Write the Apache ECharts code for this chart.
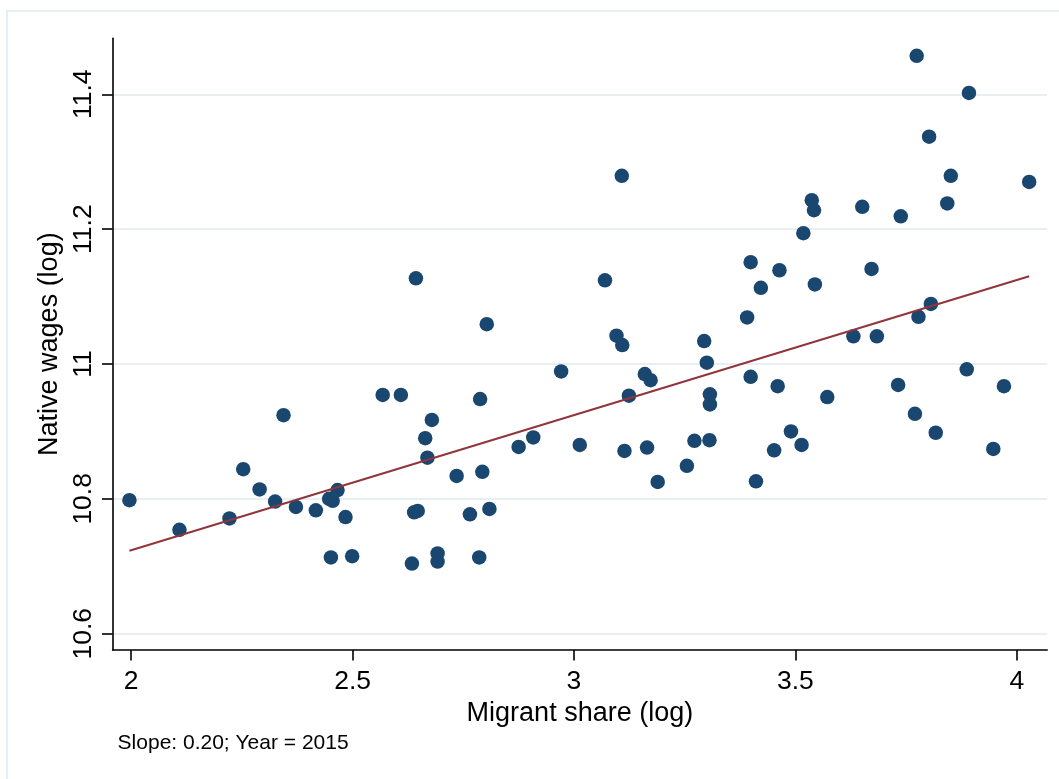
<!DOCTYPE html>
<html>
<head>
<meta charset="utf-8">
<script src="https://cdn.jsdelivr.net/npm/echarts@6/dist/echarts.min.js"></script>
<style>
html,body{margin:0;padding:0;background:#fff;}
#chart{width:1059px;height:779px;}
</style>
</head>
<body>
<div id="chart"></div>
<script>
const migrantShare = [1.996,2.109,2.222,2.253,2.290,2.344,2.325,2.372,2.417,2.447,2.455,2.466,2.484,2.451,2.499,2.568,2.609,2.639,2.647,2.634,2.643,2.803,3.096,3.109,3.294,3.300,2.971,2.788,2.679,2.664,2.669,3.160,3.173,3.124,3.307,3.307,2.908,2.875,3.013,3.114,3.165,3.272,3.306,3.255,3.189,2.735,2.793,2.765,2.809,2.692,2.692,2.786,3.391,3.806,3.778,3.631,3.684,3.399,3.460,3.572,3.732,3.887,3.971,3.770,3.817,3.947,3.490,3.514,3.452,3.411,3.108,3.070,3.774,3.892,3.802,3.851,4.028,3.843,3.537,3.542,3.651,3.738,3.518,3.399,3.464,3.422,3.544,3.672];
const nativeWages = [10.798,10.754,10.771,10.844,10.814,10.924,10.796,10.788,10.783,10.800,10.797,10.813,10.773,10.713,10.715,10.954,10.954,10.780,10.782,10.704,11.127,11.059,11.042,11.028,11.034,11.002,10.989,10.948,10.917,10.890,10.861,10.985,10.976,10.953,10.955,10.940,10.891,10.877,10.880,10.871,10.876,10.886,10.887,10.849,10.825,10.834,10.840,10.777,10.785,10.719,10.707,10.713,11.069,11.089,11.070,11.041,11.041,10.981,10.967,10.951,10.969,10.992,10.967,10.926,10.898,10.874,10.900,10.880,10.872,10.826,11.279,11.124,11.457,11.402,11.337,11.279,11.270,11.238,11.243,11.228,11.233,11.219,11.194,11.151,11.139,11.113,11.118,11.141];
const fitX = [1.996, 4.028];
const fitY = [10.723, 11.130];
const xTicks = [2, 2.5, 3, 3.5, 4];
const yTicks = [10.6, 10.8, 11, 11.2, 11.4];
const xTitle = 'Migrant share (log)';
const yTitle = 'Native wages (log)';
const note = 'Slope: 0.20; Year = 2015';

const scatterData = migrantShare.map((x, i) => [x, nativeWages[i]]);
const fitData = fitX.map((x, i) => [x, fitY[i]]);

const chart = echarts.init(document.getElementById('chart'), null, {renderer: 'canvas'});
const FONT = 'Liberation Sans, Arial, sans-serif';
chart.setOption({
  animation: false,
  backgroundColor: '#ffffff',
  grid: {left: 112.6, right: 11.8, top: 38.3, bottom: 129, containLabel: false},
  xAxis: {
    type: 'value', min: 1.958, max: 4.0687,
    name: xTitle, nameLocation: 'middle', nameGap: 45,
    nameTextStyle: {fontFamily: FONT, fontSize: 27, color: '#000'},
    axisLine: {show: true, onZero: false, lineStyle: {color: '#000', width: 1.6}},
    axisTick: {show: true, length: 10.6, lineStyle: {color: '#000', width: 1.6}, customValues: xTicks},
    axisLabel: {fontFamily: FONT, fontSize: 26.5, color: '#000', margin: 18, customValues: xTicks},
    splitLine: {show: false}
  },
  yAxis: {
    type: 'value', min: 10.5758, max: 11.483,
    name: yTitle, nameLocation: 'middle', nameGap: 42, nameRotate: 90,
    nameTextStyle: {fontFamily: FONT, fontSize: 27, color: '#000'},
    axisLine: {show: true, onZero: false, lineStyle: {color: '#000', width: 1.6}},
    axisTick: {show: true, length: 10.6, lineStyle: {color: '#000', width: 1.6}, customValues: yTicks},
    axisLabel: {fontFamily: FONT, fontSize: 26.5, color: '#000', margin: 15, rotate: 90, customValues: yTicks},
    splitLine: {show: true, lineStyle: {color: '#e8eff2', width: 2}}
  },
  graphic: [
    {type: 'rect', shape: {x: 7, y: 11, width: 1100, height: 900}, style: {fill: null, stroke: '#e6eef1', lineWidth: 2}, z: -10, silent: true},
    {type: 'text', x: 117.6, y: 743.5, style: {text: note, fontFamily: FONT, fontSize: 21, fill: '#000', textVerticalAlign: 'middle', textAlign: 'left'}}
  ],
  series: [
    {type: 'scatter', data: scatterData, symbol: 'circle', symbolSize: 14.5, itemStyle: {color: '#1a476f', opacity: 1}, z: 2},
    {type: 'line', data: fitData, showSymbol: false, symbol: 'none', lineStyle: {color: '#90353b', width: 2}, z: 3}
  ]
});
</script>
</body>
</html>
